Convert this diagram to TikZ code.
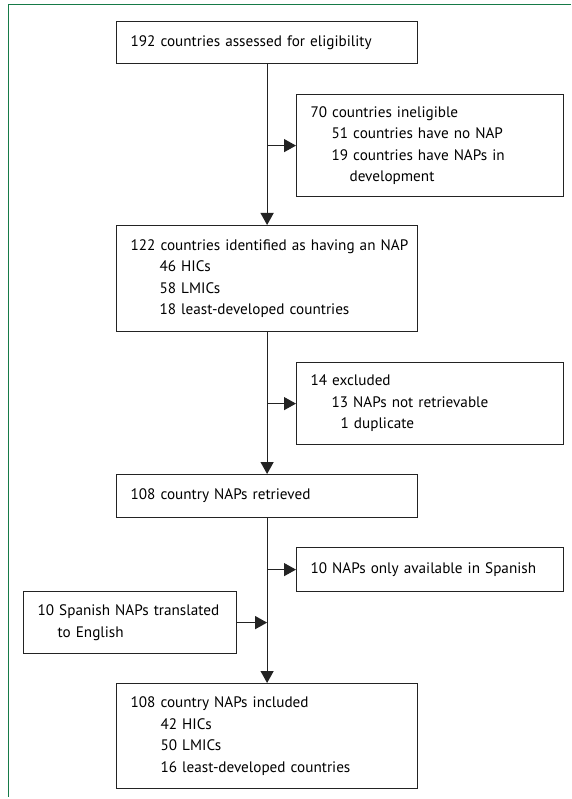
\documentclass[tikz,border=0pt]{standalone}
\usepackage{fontspec}
\setmainfont{PT Sans}
\usetikzlibrary{arrows.meta}
\definecolor{framegreen}{RGB}{22,122,72}
\definecolor{boxline}{RGB}{35,35,35}
\begin{document}
\begin{tikzpicture}[x=1pt,y=-1pt,
  box/.style={draw=boxline, line width=1.2pt, anchor=north west, align=left,
    inner xsep=14pt, inner ysep=0pt, font=\fontsize{15.2}{21.5}\selectfont},
  arr/.style={draw=boxline, line width=1.2pt, -{Triangle[length=12pt,width=13pt]}},
  frame/.style={draw=framegreen, line width=1pt}]
\useasboundingbox (0,0) rectangle (571,799);
\coordinate (ftop) at (571,5);
\coordinate (fcorner) at (8,5);
\coordinate (fbottom) at (8,797);
\draw[frame] (ftop) -- (fcorner) -- (fbottom);

\node[box, text width=273pt, minimum height=42pt] (b1) at (116,21)
  {\mbox{192 countries assessed for eligibility}};
\node[box, text width=239pt, minimum height=102pt] (b2) at (296,94)
  {\mbox{70 countries ineligible}\\
   \mbox{\hspace*{21pt}51 countries have no NAP}\\
   \mbox{\hspace*{21pt}19 countries have NAPs in}\\
   \mbox{\hspace*{39pt}development}};
\node[box, text width=273pt, minimum height=106pt] (b3) at (116,225)
  {\mbox{122 countries identified as having an NAP}\\
   \mbox{\hspace*{29pt}46 HICs}\\
   \mbox{\hspace*{29pt}58 LMICs}\\
   \mbox{\hspace*{29pt}18 least-developed countries}};
\node[box, text width=239pt, minimum height=82pt] (b4) at (296,362)
  {\mbox{14 excluded}\\
   \mbox{\hspace*{21pt}13 NAPs not retrievable}\\
   \mbox{\hspace*{30pt}1 duplicate}};
\node[box, text width=273pt, minimum height=43pt] (b5) at (116,474)
  {\mbox{108 country NAPs retrieved}};
\node[box, text width=239pt, minimum height=44pt] (b6) at (296,547)
  {\mbox{10 NAPs only available in Spanish}};
\node[box, text width=185pt, minimum height=62pt] (b7) at (23,591)
  {\mbox{10 Spanish NAPs translated}\\
   \mbox{\hspace*{20pt}to English}};
\node[box, text width=273pt, minimum height=105pt] (b8) at (116,683)
  {\mbox{108 country NAPs included}\\
   \mbox{\hspace*{30pt}42 HICs}\\
   \mbox{\hspace*{30pt}50 LMICs}\\
   \mbox{\hspace*{30pt}16 least-developed countries}};

\draw[arr] (b1.south) -- (b3.north);
\draw[arr] (b1.south |- b2.west) -- (b2.west);
\draw[arr] (b3.south) -- (b5.north);
\draw[arr] (b3.south |- b4.west) -- (b4.west);
\draw[arr] (b5.south) -- (b8.north);
\draw[arr] (b5.south |- b6.west) -- (b6.west);
\draw[arr] (b7.east) -- (b7.east -| b5.south);
\end{tikzpicture}
\end{document}
